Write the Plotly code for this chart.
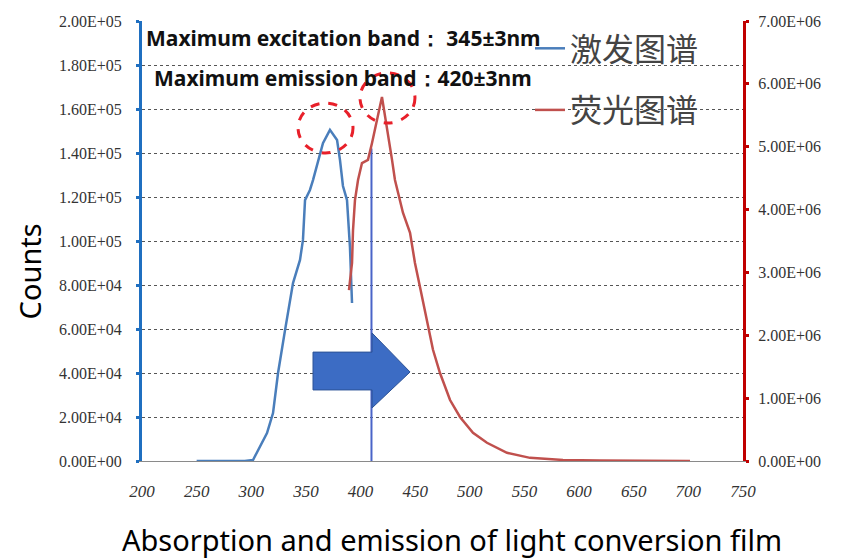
import plotly.graph_objects as go

# ---------------- data ----------------
ex_nm = [250, 294, 301.6, 314.4, 319.9, 324.5, 330.9, 338.2, 344.6, 347.3, 349.2, 353.7,
         356.5, 365.6, 372.0, 378.5, 381.2, 383.9, 387.6, 390.3, 392.2]
ex_counts = [0, 0, 450, 12700, 21800, 40000, 59500, 80900, 91400, 100500, 118600, 123200,
             127700, 144500, 150500, 145900, 136800, 125000, 118600, 97300, 71800]

ex_line_nm = [410, 410]
ex_line_counts = [-2700, 142000]

em_nm = [389.4, 392.2, 393.1, 394.9, 397.7, 401.3, 406.8, 410.5, 419.6, 424.2, 428.8, 431.5,
         434.3, 438.8, 445.3, 449.8, 454.4, 460.8, 466.3, 472.7, 481.9, 491.0, 502.9, 515.7,
         534.0, 555.1, 585.3, 619.0, 701.5]
em_counts = [2.72e6, 3.15e6, 3.67e6, 4.15e6, 4.47e6, 4.74e6, 4.79e6, 5.06e6, 5.79e6, 5.31e6,
             4.79e6, 4.47e6, 4.26e6, 3.95e6, 3.63e6, 3.15e6, 2.77e6, 2.20e6, 1.77e6, 1.40e6,
             0.97e6, 0.70e6, 0.45e6, 0.29e6, 0.13e6, 0.05e6, 0.016e6, 0.008e6, 0.0]

x_ticks = [200, 250, 300, 350, 400, 450, 500, 550, 600, 650, 700, 750]
y1_ticks = [0, 20000, 40000, 60000, 80000, 100000, 120000, 140000, 160000, 180000, 200000]
y1_labels = ["0.00E+00", "2.00E+04", "4.00E+04", "6.00E+04", "8.00E+04", "1.00E+05",
             "1.20E+05", "1.40E+05", "1.60E+05", "1.80E+05", "2.00E+05"]
y2_ticks = [0, 1e6, 2e6, 3e6, 4e6, 5e6, 6e6, 7e6]
y2_labels = ["0.00E+00", "1.00E+06", "2.00E+06", "3.00E+06", "4.00E+06", "5.00E+06",
             "6.00E+06", "7.00E+06"]

name_ex = "激发图谱"
name_em = "荧光图谱"
note_ex = "Maximum excitation band： 345±3nm"
note_em = "Maximum emission band：420±3nm"
y_title = "Counts"
x_title = "Absorption and emission of light conversion film"

# ---------------- figure ----------------
fig = go.Figure()
fig.add_trace(go.Scatter(x=ex_nm, y=ex_counts, mode="lines", name=name_ex,
                         line=dict(color="#4a7ebb", width=2.5), legendgroup="a"))
fig.add_trace(go.Scatter(x=ex_line_nm, y=ex_line_counts, mode="lines", showlegend=False,
                         line=dict(color="#4a64c8", width=2), cliponaxis=False))
fig.add_trace(go.Scatter(x=em_nm, y=em_counts, mode="lines", name=name_em, yaxis="y2",
                         line=dict(color="#c0504d", width=2.5), legendgroup="b"))

tickfont = dict(family="Liberation Serif", size=16, color="#333333")

# the page body adds an 8px margin, so the figure is 8px smaller than the window
fig.update_layout(
    width=833, height=551,
    margin=dict(l=134, r=98, t=13, b=98, autoexpand=False),
    paper_bgcolor="white", plot_bgcolor="white",
    showlegend=True,
    legend=dict(x=0.6456, y=1.0, xanchor="left", yanchor="top",
                bgcolor="rgba(0,0,0,0)", tracegroupgap=17,
                font=dict(family="Noto Sans CJK SC", size=32, color="#444444")),
    xaxis=dict(range=[200, 750], tickvals=x_ticks, showgrid=False, zeroline=False,
               automargin=False,
               showline=True, linecolor="#8a8a8a", linewidth=1, ticks="",
               tickfont=dict(family="Liberation Serif", size=17, color="#333333", style="italic"),
               ticklabelstandoff=15),
    yaxis=dict(range=[0, 200000], tickvals=y1_ticks, ticktext=y1_labels, zeroline=False,
               automargin=False,
               showgrid=True, gridcolor="#555555", griddash="3px,3px", gridwidth=1,
               showline=True, linecolor="#1f6fc0", linewidth=3,
               ticks="outside", ticklen=3, tickwidth=3, tickcolor="#1f6fc0",
               tickfont=tickfont, ticklabelstandoff=11),
    yaxis2=dict(range=[0, 7e6], tickvals=y2_ticks, ticktext=y2_labels, overlaying="y",
                side="right", showgrid=False, zeroline=False, automargin=False,
                showline=True, linecolor="#c00000", linewidth=3,
                ticks="outside", ticklen=3, tickwidth=3, tickcolor="#c00000",
                tickfont=tickfont, ticklabelstandoff=6),
)

# dashed ellipses around the peaks
fig.add_shape(type="circle", xref="x", yref="y", x0=342.8, x1=393.1, y0=140000, y1=162700,
              line=dict(color="#e8202a", width=3, dash="dash"))
fig.add_shape(type="circle", xref="x", yref="y", x0=399.5, x1=449.8, y0=153600, y1=176400,
              line=dict(color="#e8202a", width=3, dash="dash"))

# block arrow
fig.add_shape(type="path", xref="x", yref="y",
              path="M 356.5,49500 L 410.5,49500 L 410.5,58200 L 445.3,40450 L 410.5,24100 "
                   "L 410.5,32300 L 356.5,32300 Z",
              fillcolor="#3c6cc4", line=dict(color="#2c5296", width=1))

fig.add_annotation(text=note_ex, xref="paper", yref="paper", x=0.003, y=0.961,
                   xanchor="left", yanchor="middle", showarrow=False,
                   font=dict(family="Noto Sans", size=21, color="#111111", weight="bold"))
fig.add_annotation(text=note_em, xref="paper", yref="paper", x=0.0166, y=0.870,
                   xanchor="left", yanchor="middle", showarrow=False,
                   font=dict(family="Noto Sans", size=21, color="#111111", weight="bold"))

fig.add_annotation(text=y_title, xref="paper", yref="paper", x=-0.187, y=0.43,
                   xanchor="center", yanchor="middle", showarrow=False, textangle=-90,
                   font=dict(family="Noto Sans", size=29, color="#000000"))
fig.add_annotation(text=x_title, xref="paper", yref="paper", x=0.515, y=-0.1795,
                   xanchor="center", yanchor="middle", showarrow=False, borderpad=0,
                   font=dict(family="Noto Sans", size=29, color="#000000"))

fig.write_html("out.html")
